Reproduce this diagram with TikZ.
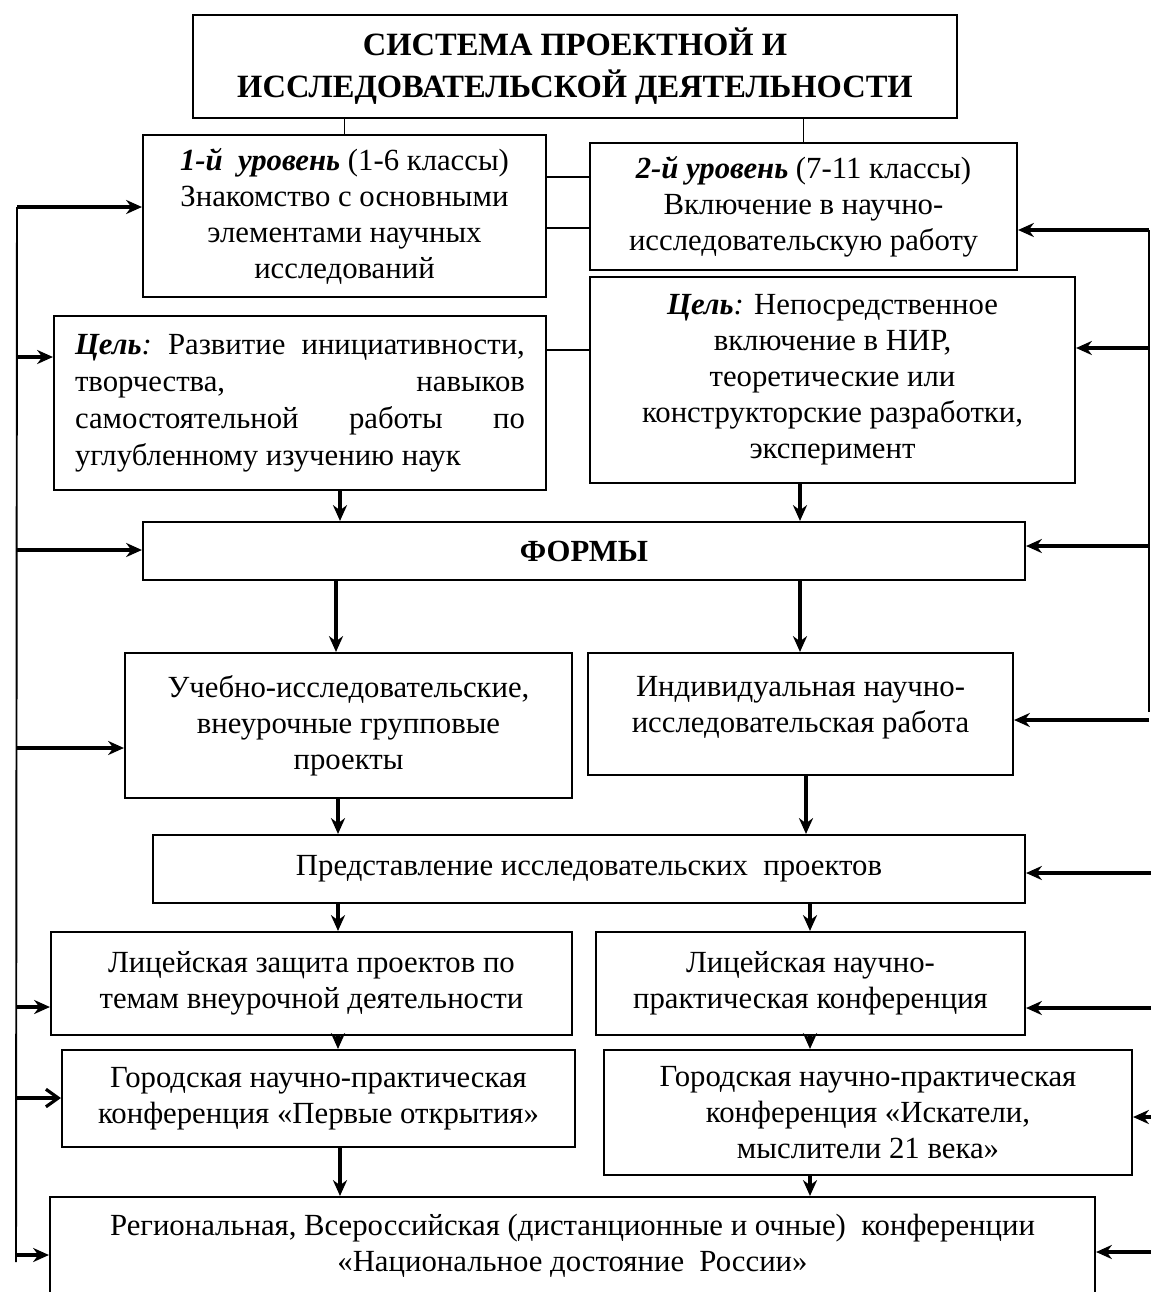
\documentclass[tikz,border=0pt]{standalone}
\usepackage{fontspec}
\setmainfont{Liberation Serif}
\usetikzlibrary{arrows.meta,calc}
\newcommand\pxbox[7][]{%
  \node[box,#1,minimum width={(#4-#2)*0.02cm},minimum height={(#5-#3)*0.02cm}]
    (#6) at ({(#2+#4)/2},{(#3+#5)/2}) {#7};}
\begin{document}
\begin{tikzpicture}[x=0.02cm,y=-0.02cm,
  box/.style={draw,line width=1.2pt,inner sep=0pt,align=center,fill=white,
    font=\fontsize{17.5}{20.5}\selectfont},
  thin/.style={line width=0.8pt},
  arr/.style={line width=1.8pt,-{Stealth[length=9pt,width=8pt]}},
  arrb/.style={line width=1.8pt,-{Straight Barb[length=7pt,width=10pt]}},
  bus/.style={line width=1.1pt}]
\useasboundingbox[fill=white] (0,0) rectangle (1151,1292);
% boxes
\pxbox[font=\fontsize{18.5}{24}\selectfont\bfseries]{193}{15}{957}{118}{title}{СИСТЕМА ПРОЕКТНОЙ И\\ИССЛЕДОВАТЕЛЬСКОЙ ДЕЯТЕЛЬНОСТИ}
\pxbox{143}{135}{546}{297}{lvl1}{\textbf{\textit{1-й\ \ уровень}} (1-6 классы)\\Знакомство с основными\\элементами научных\\исследований}
\pxbox{590}{143}{1017}{270}{lvl2}{\textbf{\textit{2-й уровень}} (7-11 классы)\\Включение в научно-\\исследовательскую работу}
\pxbox{54}{316}{546}{490}{goal1}{\begin{minipage}{9.0cm}\fontsize{17.5}{21}\selectfont
\textbf{\textit{Цель}}\textit{:}\hfill Развитие\hfill инициативности,\\
творчества,\hfill навыков\\
самостоятельной\hfill работы\hfill по\\
углубленному изучению наук\end{minipage}}
\pxbox{590}{277}{1075}{483}{goal2}{\textbf{\textit{Цель}}\textit{:} Непосредственное\\включение в НИР,\\теоретические или\\конструкторские разработки,\\эксперимент}
\pxbox[font=\fontsize{17.5}{20.5}\selectfont\bfseries]{143}{522}{1025}{580}{forms}{ФОРМЫ}
\pxbox{125}{653}{572}{798}{ucheb}{Учебно-исследовательские,\\внеурочные групповые\\проекты}
\pxbox{588}{653}{1013}{775}{indiv}{Индивидуальная научно-\\исследовательская работа\\[-10pt]}
\pxbox{153}{835}{1025}{903}{pred}{Представление исследовательских\ \ проектов}
\pxbox{51}{932}{572}{1035}{lic1}{Лицейская защита проектов по\\темам внеурочной деятельности}
\pxbox{596}{932}{1025}{1035}{lic2}{Лицейская научно-\\практическая конференция}
\pxbox{62}{1050}{575}{1147}{gor1}{Городская научно-практическая\\конференция «Первые открытия»}
\pxbox{604}{1050}{1132}{1175}{gor2}{Городская научно-практическая\\конференция «Искатели,\\мыслители 21 века»}
\pxbox{50}{1197}{1095}{1295}{reg}{Региональная, Всероссийская (дистанционные и очные)\ \ конференции\\«Национальное достояние\ \ России»}
% thin connectors
\draw[thin] (title.south -| lvl1.north) -- (lvl1.north);
\draw[thin] (title.south -| lvl2.north) -- (lvl2.north);
\coordinate (h1) at (0,177);
\coordinate (h2) at (0,228);
\coordinate (h3) at (0,350);
\draw[thin] (lvl1.east |- h1) -- (lvl2.west |- h1);
\draw[thin] (lvl1.east |- h2) -- (lvl2.west |- h2);
\draw[thin] (goal1.east |- h3) -- (goal2.west |- h3);
% vertical flow arrows
\coordinate (c1) at (340,0);
\coordinate (c2) at (800,0);
\coordinate (c3) at (336,0);
\coordinate (c4) at (338,0);
\coordinate (c5) at (806,0);
\coordinate (c6) at (810,0);
\draw[arr] (goal1.south -| c1) -- (forms.north -| c1);
\draw[arr] (goal2.south -| c2) -- (forms.north -| c2);
\draw[arr] (forms.south -| c3) -- (ucheb.north -| c3);
\draw[arr] (forms.south -| c2) -- (indiv.north -| c2);
\draw[arr] (ucheb.south -| c4) -- (pred.north -| c4);
\draw[arr] (indiv.south -| c5) -- (pred.north -| c5);
\draw[arr] (pred.south -| c4) -- (lic1.north -| c4);
\draw[arr] (pred.south -| c6) -- (lic2.north -| c6);
\draw[arr] (lic1.south -| c4) -- (gor1.north -| c4);
\draw[arr] (lic2.south -| c6) -- (gor2.north -| c6);
\draw[arr] (gor1.south -| c1) -- (reg.north -| c1);
\draw[arr] (gor2.south -| c6) -- (reg.north -| c6);
% left feedback bus
\coordinate (lt) at (17,207);
\coordinate (lb) at (16,1262);
\draw[bus] (lt) -- (lb);
\coordinate (l1) at (17,207);
\coordinate (l2) at (17,357);
\coordinate (l3) at (17,550);
\coordinate (l4) at (16,748);
\coordinate (l5) at (16,1007);
\coordinate (l6) at (16,1098);
\coordinate (l7) at (16,1255);
\draw[arr] (l1) -- (lvl1.west |- l1);
\draw[arr] (l2) -- (goal1.west |- l2);
\draw[arr] (l3) -- (forms.west |- l3);
\draw[arr] (l4) -- (ucheb.west |- l4);
\draw[arr] (l5) -- (lic1.west |- l5);
\draw[arrb] (l6) -- (gor1.west |- l6);
\draw[arr] (l7) -- (reg.west |- l7);
% right feedback bus
\coordinate (rt) at (1149,230);
\coordinate (rb) at (1149,712);
\draw[bus] (rt) -- (rb);
\coordinate (r1) at (1149,230);
\coordinate (r2) at (1149,348);
\coordinate (r3) at (1149,546);
\coordinate (r4) at (1149,720);
\coordinate (r5) at (1151,873);
\coordinate (r6) at (1151,1008);
\coordinate (r7) at (1151,1117);
\coordinate (r8) at (1151,1252);
\draw[arr] (r1) -- (lvl2.east |- r1);
\draw[arr] (r2) -- (goal2.east |- r2);
\draw[arr] (r3) -- (forms.east |- r3);
\draw[arr] (r4) -- (indiv.east |- r4);
\draw[arr] (r5) -- (pred.east |- r5);
\draw[arr] (r6) -- (lic2.east |- r6);
\draw[arr] (r7) -- (gor2.east |- r7);
\draw[arr] (r8) -- (reg.east |- r8);
\end{tikzpicture}
\end{document}
